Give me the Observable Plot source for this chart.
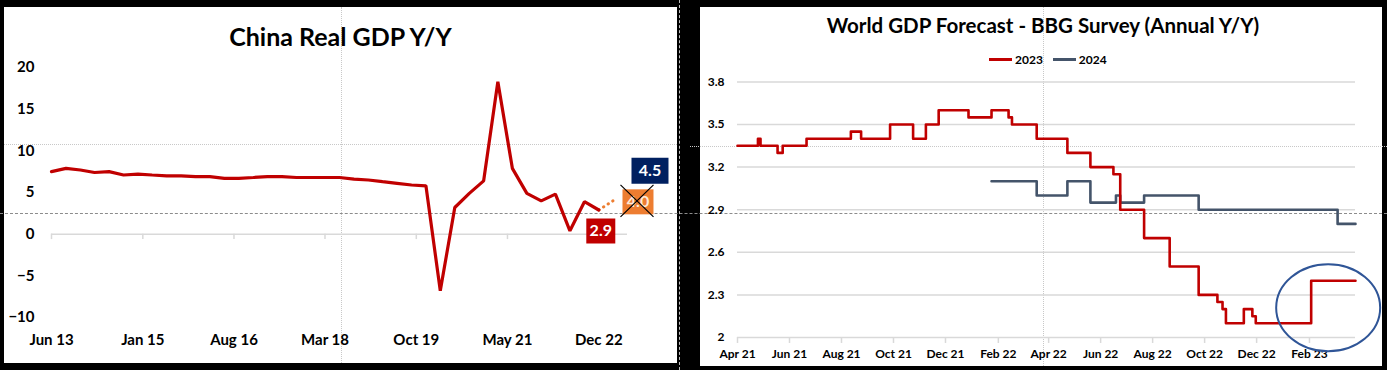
<!DOCTYPE html>
<html>
<head>
<meta charset="utf-8">
<script src="https://cdn.jsdelivr.net/npm/d3@7"></script>
<script src="https://cdn.jsdelivr.net/npm/@observablehq/plot@0.6"></script>
<style>
  html, body { margin: 0; padding: 0; }
  body { background: #000; width: 1387px; height: 370px; overflow: hidden; position: relative; font-family: Lato, "Open Sans", sans-serif; }
  .bg { position: absolute; background: #fff; z-index: 0; }
  .chart { position: absolute; z-index: 2; }
  .guide { position: absolute; z-index: 1; }
  .title { position: absolute; left: 0; right: 0; text-align: center; font-weight: 700; color: #000; white-space: nowrap; }
  .legend { position: absolute; font-weight: 700; font-size: 12px; color: #000; display: flex; align-items: center; white-space: nowrap; }
  .legend .sw { display: inline-block; width: 23px; height: 3px; margin-right: 3px; }
  .legend .item { display: flex; align-items: center; margin-right: 10px; }
</style>
</head>
<body>
<div class="bg" style="left:4px;top:7px;width:673px;height:356px"></div>
<div class="bg" style="left:700px;top:7px;width:682px;height:359px"></div>

<!-- screen guide lines visible in the reference -->
<div class="guide" style="left:341px;top:7px;height:356px;border-left:1px dotted #c8c8c8"></div>
<div class="guide" style="left:4px;top:144px;width:673px;border-top:1px dotted #c8c8c8"></div>
<div class="guide" style="left:1043px;top:7px;height:359px;border-left:1px dotted #c8c8c8"></div>
<div class="guide" style="left:690px;top:146px;width:697px;border-top:1px dotted #c8c8c8"></div>
<div class="guide" style="left:0px;top:213px;width:1387px;border-top:1px dashed #8c8c8c"></div>
<div class="guide" style="left:679px;top:0px;height:370px;border-left:1px dashed #bdbdbd"></div>

<div class="chart" id="left" style="left:4px;top:7px;width:673px;height:356px">
  <div class="title" style="top:14px;font-size:25px;">China Real GDP Y/Y</div>
</div>
<div class="chart" id="right" style="left:700px;top:7px;width:682px;height:359px">
  <div class="title" style="top:6px;font-size:20.5px;padding-left:4px;">World GDP Forecast - BBG Survey (Annual Y/Y)</div>
  <div class="legend" style="left:289px;top:45px;">
    <span class="item"><span class="sw" style="background:#c00000"></span>2023</span>
    <span class="item"><span class="sw" style="background:#44546a"></span>2024</span>
  </div>
</div>

<script>
// ---------- Left chart: China Real GDP Y/Y (quarterly) ----------
const chinaDates = [
  "2013-06-01","2013-09-01","2013-12-01",
  "2014-03-01","2014-06-01","2014-09-01","2014-12-01",
  "2015-03-01","2015-06-01","2015-09-01","2015-12-01",
  "2016-03-01","2016-06-01","2016-09-01","2016-12-01",
  "2017-03-01","2017-06-01","2017-09-01","2017-12-01",
  "2018-03-01","2018-06-01","2018-09-01","2018-12-01",
  "2019-03-01","2019-06-01","2019-09-01","2019-12-01",
  "2020-03-01","2020-06-01","2020-09-01","2020-12-01",
  "2021-03-01","2021-06-01","2021-09-01","2021-12-01",
  "2022-03-01","2022-06-01","2022-09-01","2022-12-01"
];
const chinaGdp = [
  7.5, 7.9, 7.7,
  7.4, 7.5, 7.1, 7.2,
  7.1, 7.0, 7.0, 6.9,
  6.9, 6.7, 6.7, 6.8,
  6.9, 6.9, 6.8, 6.8,
  6.8, 6.8, 6.6, 6.5,
  6.3, 6.1, 5.9, 5.8,
  -6.8, 3.2, 4.9, 6.4,
  18.3, 7.9, 4.9, 4.0,
  4.8, 0.4, 3.9, 2.9
];
const forecastDates = ["2022-12-01", "2023-03-01"];
const forecastValues = [2.9, 4.0];
const lastActual = {date: "2022-12-01", value: 2.9, label: "2.9"};
const oldForecast = {date: "2023-03-01", value: 4.0, label: "4.0"};
const newForecast = {date: "2023-03-01", value: 4.5, label: "4.5"};
const leftXTicks = ["2013-06-01","2015-01-01","2016-08-01","2018-03-01","2019-10-01","2021-05-01","2022-12-01"];
const leftYTicks = [-10, -5, 0, 5, 10, 15, 20];

// ---------- Right chart: World GDP Forecast - BBG Survey ----------
const dates2023 = [
  "2021-04-01","2021-04-25","2021-04-28","2021-05-18","2021-05-24","2021-06-21",
  "2021-08-12","2021-08-24","2021-09-27","2021-10-24","2021-11-08","2021-11-23",
  "2021-12-28","2022-01-24","2022-02-13","2022-02-17","2022-03-18","2022-04-23",
  "2022-05-20","2022-06-16","2022-06-24","2022-07-22","2022-08-21","2022-09-24",
  "2022-10-16","2022-10-22","2022-10-26","2022-11-16","2022-11-26","2022-11-30",
  "2023-02-03","2023-03-27"
];
const values2023 = [
  3.35, 3.40, 3.35, 3.30, 3.35, 3.40,
  3.45, 3.40, 3.50, 3.40, 3.50, 3.60,
  3.55, 3.60, 3.55, 3.50, 3.40, 3.30,
  3.20, 3.15, 2.90, 2.70, 2.50, 2.30,
  2.25, 2.20, 2.10, 2.20, 2.15, 2.10,
  2.40, 2.40
];
const dates2024 = [
  "2022-01-24","2022-03-18","2022-04-23","2022-05-20","2022-06-19","2022-06-24",
  "2022-07-22","2022-09-24","2023-03-06","2023-03-27"
];
const values2024 = [3.10, 3.00, 3.10, 2.95, 3.00, 2.95, 3.00, 2.90, 2.80, 2.80];
const highlight = {date: "2023-02-03", value: 2.4};
const rightXTicks = [
  "2021-04-01","2021-06-01","2021-08-01","2021-10-01","2021-12-01",
  "2022-02-01","2022-04-01","2022-06-01","2022-08-01","2022-10-01","2022-12-01","2023-02-01"
];
const rightYTicks = [2, 2.3, 2.6, 2.9, 3.2, 3.5, 3.8];

// ---------- helpers ----------
const D = s => new Date(s);
const fmt = d3.utcFormat("%b %y");
const rectSymbol = (w, h) => ({draw(ctx) { ctx.rect(-w / 2, -h / 2, w, h); }});
const crossSymbol = (w, h) => ({draw(ctx) {
  ctx.moveTo(-w / 2, -h / 2); ctx.lineTo(w / 2, h / 2);
  ctx.moveTo(-w / 2, h / 2); ctx.lineTo(w / 2, -h / 2);
}});
const ellipseSymbol = (rx, ry) => ({draw(ctx) {
  const k = 0.5523;
  ctx.moveTo(rx, 0);
  ctx.bezierCurveTo(rx, ry * k, rx * k, ry, 0, ry);
  ctx.bezierCurveTo(-rx * k, ry, -rx, ry * k, -rx, 0);
  ctx.bezierCurveTo(-rx, -ry * k, -rx * k, -ry, 0, -ry);
  ctx.bezierCurveTo(rx * k, -ry, rx, -ry * k, rx, 0);
  ctx.closePath();
}});

const chinaData = chinaDates.map((d, i) => ({date: D(d), value: chinaGdp[i]}));
const forecastData = forecastDates.map((d, i) => ({date: D(d), value: forecastValues[i]}));
const s2023 = dates2023.map((d, i) => ({date: D(d), value: values2023[i]}));
const s2024 = dates2024.map((d, i) => ({date: D(d), value: values2024[i]}));
const asPoint = o => [{date: D(o.date), value: o.value, label: o.label}];

const leftPlot = Plot.plot({
  width: 673, height: 356,
  marginLeft: 47, marginRight: 50, marginTop: 60, marginBottom: 46,
  style: {background: "transparent", fontFamily: "Lato, 'Open Sans', sans-serif", fontWeight: 700, fontSize: "15px", color: "#000", overflow: "visible"},
  x: {type: "utc", domain: [D("2013-06-01"), D("2023-06-01")]},
  y: {domain: [-10, 20]},
  marks: [
    Plot.ruleY([0], {stroke: "#d9d9d9", strokeWidth: 1.5}),
    Plot.ruleX(leftXTicks.map(D), {x: d => d, y1: 0, y2: -0.65, stroke: "#d9d9d9", strokeWidth: 1.5}),
    Plot.axisX({ticks: leftXTicks.map(D), tickFormat: fmt, tickSize: 0, tickPadding: 17, label: null}),
    Plot.axisY({ticks: leftYTicks, tickSize: 0, tickPadding: 17, label: null}),
    Plot.line(forecastData, {x: "date", y: "value", stroke: "#ed7d31", strokeWidth: 3, strokeDasharray: "0.5,5", strokeLinecap: "round"}),
    Plot.line(chinaData, {x: "date", y: "value", stroke: "#c00000", strokeWidth: 3.2, strokeLinejoin: "miter"}),
    // callout boxes
    Plot.dot(asPoint(lastActual), {x: "date", y: "value", symbol: rectSymbol(29, 25), fill: "#c00000", stroke: "none", dx: 2, dy: 21}),
    Plot.text(asPoint(lastActual), {x: "date", y: "value", text: "label", fill: "#fff", fontSize: 16, fontWeight: 700, dx: 2, dy: 21}),
    Plot.dot(asPoint(oldForecast), {x: "date", y: "value", symbol: rectSymbol(31, 25), fill: "#ed7d31", stroke: "none", dx: 25, dy: 1}),
    Plot.text(asPoint(oldForecast), {x: "date", y: "value", text: "label", fill: "#fde9d9", fontSize: 16, fontWeight: 700, dx: 25, dy: 1}),
    Plot.dot(asPoint(oldForecast), {x: "date", y: "value", symbol: crossSymbol(33, 32), fill: "none", stroke: "#000", strokeWidth: 1.2, dx: 24, dy: 0}),
    Plot.dot(asPoint(newForecast), {x: "date", y: "value", symbol: rectSymbol(37, 26), fill: "#002060", stroke: "none", dx: 37, dy: -26}),
    Plot.text(asPoint(newForecast), {x: "date", y: "value", text: "label", fill: "#fff", fontSize: 16, fontWeight: 700, dx: 37, dy: -26})
  ]
});
document.getElementById("left").appendChild(leftPlot);

const rightPlot = Plot.plot({
  width: 682, height: 359,
  marginLeft: 37, marginRight: 27, marginTop: 74.4, marginBottom: 29,
  style: {background: "transparent", fontFamily: "Lato, 'Open Sans', sans-serif", fontWeight: 700, fontSize: "12px", color: "#000", overflow: "visible"},
  x: {type: "utc", domain: [D("2021-04-01"), D("2023-03-27")]},
  y: {domain: [2, 3.8]},
  marks: [
    Plot.ruleY(rightYTicks, {stroke: "#d9d9d9", strokeWidth: 1.5}),
    Plot.ruleX(rightXTicks.map(D), {x: d => d, y1: 2, y2: 1.958, stroke: "#d9d9d9", strokeWidth: 1.5}),
    Plot.axisX({ticks: rightXTicks.map(D), tickFormat: fmt, tickSize: 0, tickPadding: 12, label: null}),
    Plot.axisY({ticks: rightYTicks, tickFormat: d => String(d), tickSize: 0, tickPadding: 13, label: null}),
    Plot.line(s2024, {x: "date", y: "value", curve: "step-after", stroke: "#44546a", strokeWidth: 2.6}),
    Plot.line(s2023, {x: "date", y: "value", curve: "step-after", stroke: "#c00000", strokeWidth: 2.6}),
    Plot.dot(asPoint(highlight), {x: "date", y: "value", symbol: ellipseSymbol(52, 43.5), fill: "none", stroke: "#2f5597", strokeWidth: 2, dx: 17, dy: 27})
  ]
});
document.getElementById("right").appendChild(rightPlot);
</script>
</body>
</html>
